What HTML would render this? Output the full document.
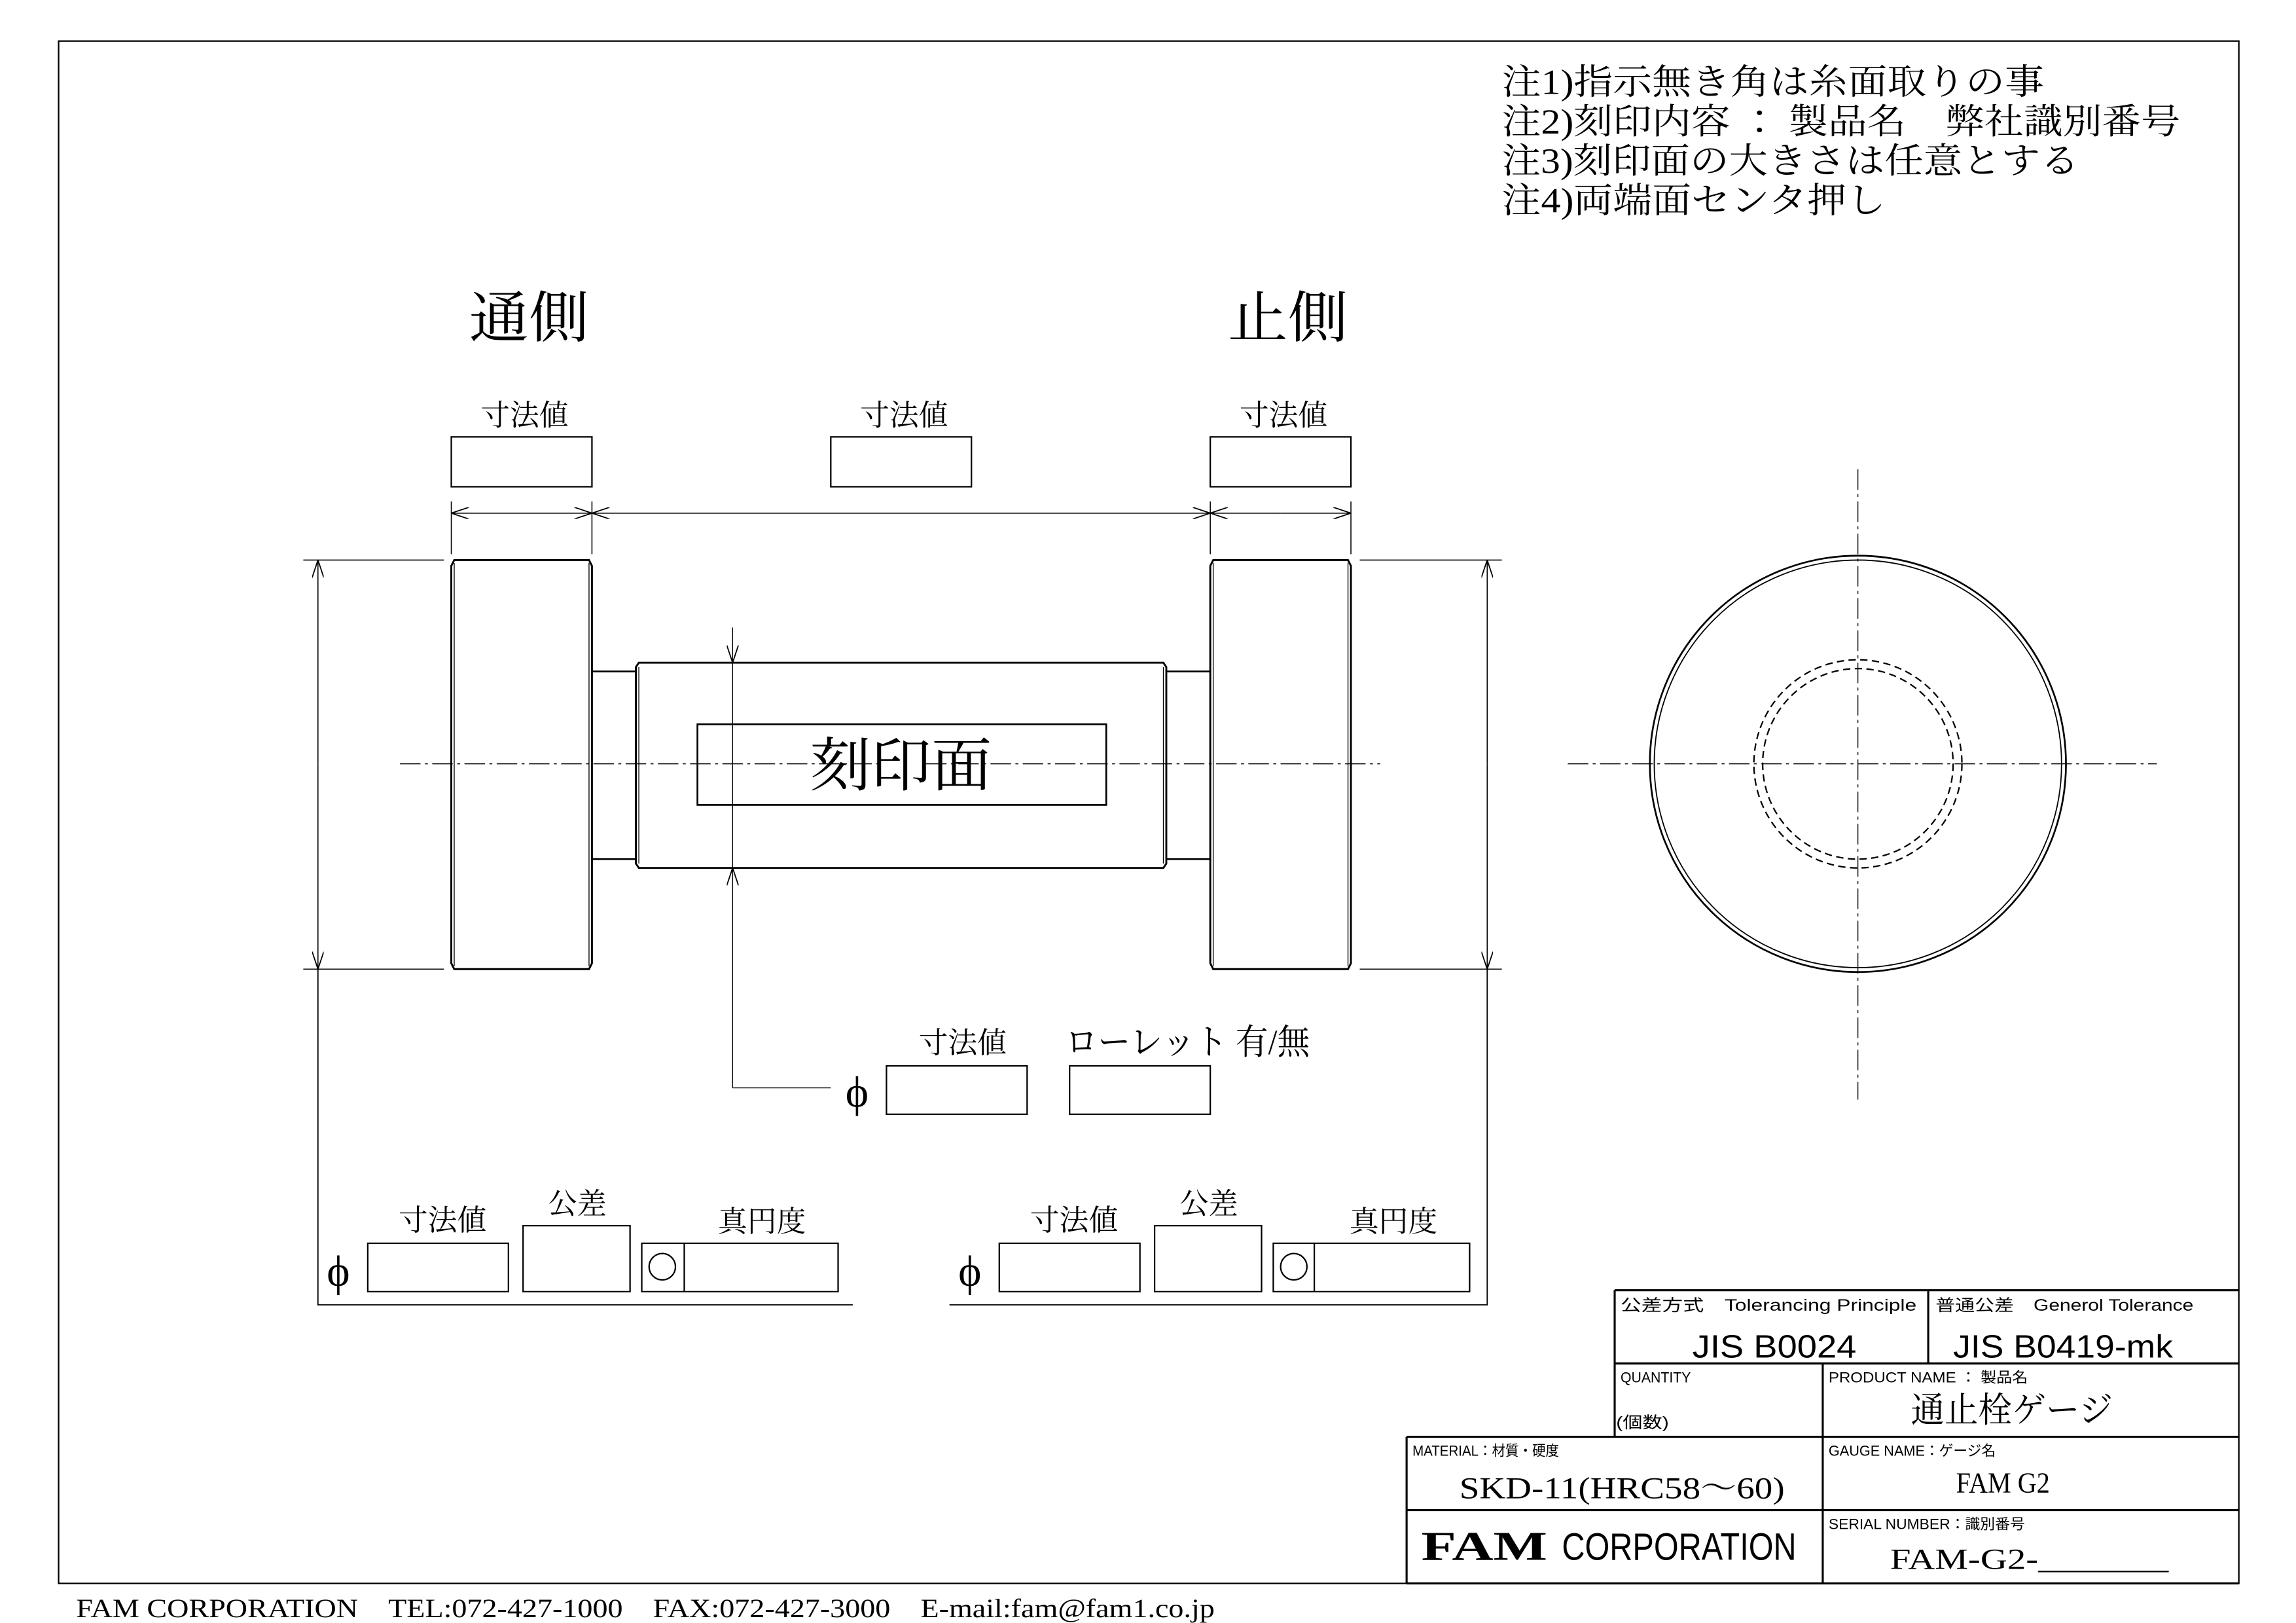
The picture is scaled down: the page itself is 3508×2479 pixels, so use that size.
<!DOCTYPE html>
<html><head><meta charset="utf-8">
<style>
html,body{margin:0;padding:0;background:#fff;}
svg{display:block;}
text{font-family:"Liberation Serif","Noto Serif CJK JP","Noto Sans CJK JP",serif;fill:#000;}
.s{font-family:"Liberation Sans","Noto Sans CJK JP",sans-serif;}
</style></head><body>
<svg width="3508" height="2479" viewBox="0 0 1567 1107" preserveAspectRatio="none" xmlns="http://www.w3.org/2000/svg">
<defs>
<marker id="a" markerWidth="12" markerHeight="8" refX="12" refY="4" orient="auto" markerUnits="userSpaceOnUse"><path d="M0,0 L12,4 L0,8" fill="none" stroke="#000" stroke-width="0.8"/></marker>
</defs>
<g fill="none" stroke="#000" stroke-width="1">
<rect x="40" y="28" width="1488" height="1052"/>
<rect x="308" y="298" width="96" height="34"/>
<rect x="567" y="298" width="96" height="34"/>
<rect x="826" y="298" width="96" height="34"/>
<path d="M308,342V378 M404,342V378 M826,342V378 M922,342V378" stroke-width="0.7"/>
<path d="M356,350H308" marker-end="url(#a)" stroke-width="0.7"/>
<path d="M356,350H404" marker-end="url(#a)" stroke-width="0.7"/>
<path d="M615,350H404" marker-end="url(#a)" stroke-width="0.7"/>
<path d="M615,350H826" marker-end="url(#a)" stroke-width="0.7"/>
<path d="M874,350H826" marker-end="url(#a)" stroke-width="0.7"/>
<path d="M874,350H922" marker-end="url(#a)" stroke-width="0.7"/>
<path d="M310,382H402L404,386V657L402,661H310L308,657V386Z" stroke-width="1.3"/>
<path d="M310,384V659 M402,384V659" stroke-width="0.6"/>
<path d="M828,382H920L922,386V657L920,661H828L826,657V386Z" stroke-width="1.3"/>
<path d="M828,384V659 M920,384V659" stroke-width="0.6"/>
<path d="M404,458H434 M404,586H434 M796,458H826 M796,586H826" stroke-width="1.2"/>
<path d="M436,452H794L796,455V589L794,592H436L434,589V455Z" stroke-width="1.3"/>
<path d="M436,455V589 M794,455V589" stroke-width="0.6"/>
<rect x="476" y="494" width="279" height="55" stroke-width="1.2"/>
<path d="M273,521H600 M632,521H942" stroke-width="0.6" stroke-dasharray="14,3,2,3"/>
<path d="M1070,521H1472 M1268,320V750" stroke-width="0.6" stroke-dasharray="14,3,2,3"/>
<path d="M207,382H303 M207,661H303 M928,382H1025 M928,661H1025" stroke-width="0.7"/>
<path d="M217,521V382" marker-end="url(#a)" stroke-width="0.7"/>
<path d="M217,521V661" marker-end="url(#a)" stroke-width="0.7"/>
<path d="M1015,521V382" marker-end="url(#a)" stroke-width="0.7"/>
<path d="M1015,521V661" marker-end="url(#a)" stroke-width="0.7"/>
<path d="M500,428V452" marker-end="url(#a)" stroke-width="0.6"/>
<path d="M500,742V592" marker-end="url(#a)" stroke-width="0.6"/>
<path d="M500,452V592 M500,742H567" stroke-width="0.6"/>
<rect x="605" y="727" width="96" height="33"/>
<rect x="730" y="727" width="96" height="33"/>
<path d="M217,661V890H582 M1015,661V890H648" stroke-width="0.8"/>
<rect x="251" y="848" width="96" height="33"/>
<rect x="357" y="836" width="73" height="45"/>
<rect x="438" y="848" width="134" height="33"/>
<path d="M467,848V881"/>
<circle cx="452" cy="864" r="9"/>
<rect x="682" y="848" width="96" height="33"/>
<rect x="788" y="836" width="73" height="45"/>
<rect x="869" y="848" width="134" height="33"/>
<path d="M897,848V881"/>
<circle cx="883" cy="864" r="9"/>
<circle cx="1268" cy="521" r="142" stroke-width="1.2"/>
<circle cx="1268" cy="521" r="139" stroke-width="0.8"/>
<circle cx="1268" cy="521" r="71" stroke-dasharray="5,3"/>
<circle cx="1268" cy="521" r="65" stroke-dasharray="5,3"/>
<path d="M1102,880H1528 M1102,880V980 M1316,880V930 M1102,930H1528 M1244,930V1080 M960,980H1528 M960,980V1080 M960,1030H1528 M960,1080H1528" stroke-width="1.4"/>
</g>
<g font-size="24">
<text x="1025" y="64" textLength="370" lengthAdjust="spacingAndGlyphs">注1)指示無き角は糸面取りの事</text>
<text x="1025" y="91" textLength="463" lengthAdjust="spacingAndGlyphs">注2)刻印内容 ： 製品名　弊社識別番号</text>
<text x="1025" y="118" textLength="394" lengthAdjust="spacingAndGlyphs">注3)刻印面の大きさは任意とする</text>
<text x="1025" y="145" textLength="262" lengthAdjust="spacingAndGlyphs">注4)両端面センタ押し</text>
</g>
<text x="320" y="230" font-size="38" textLength="82" lengthAdjust="spacingAndGlyphs">通側</text>
<text x="838" y="230" font-size="38" textLength="82" lengthAdjust="spacingAndGlyphs">止側</text>
<g font-size="20" text-anchor="middle">
<text x="358" y="290">寸法値</text>
<text x="617" y="290">寸法値</text>
<text x="876" y="290">寸法値</text>
<text x="657" y="718">寸法値</text>
<text x="302" y="839">寸法値</text>
<text x="394" y="828">公差</text>
<text x="520" y="840">真円度</text>
<text x="733" y="839">寸法値</text>
<text x="825" y="828">公差</text>
<text x="951" y="840">真円度</text>
</g>
<text x="727" y="719" font-size="24" textLength="167" lengthAdjust="spacingAndGlyphs">ローレット 有/無</text>
<text x="615" y="536" font-size="40" text-anchor="middle" textLength="124" lengthAdjust="spacingAndGlyphs">刻印面</text>
<g font-size="30">
<text x="577" y="755">ϕ</text>
<text x="223" y="877">ϕ</text>
<text x="654" y="877">ϕ</text>
</g>
<g>
<text x="1106" y="894" font-size="11" textLength="202" lengthAdjust="spacingAndGlyphs" class="s">公差方式　Tolerancing Principle</text>
<text x="1321" y="894" font-size="11" textLength="176" lengthAdjust="spacingAndGlyphs" class="s">普通公差　Generol Tolerance</text>
<text x="1211" y="926" font-size="22" text-anchor="middle" fill="#333" textLength="112" lengthAdjust="spacingAndGlyphs" class="s">JIS B0024</text>
<text x="1408" y="926" font-size="22" text-anchor="middle" fill="#333" textLength="150" lengthAdjust="spacingAndGlyphs" class="s">JIS B0419-mk</text>
<text x="1106" y="943" font-size="10" textLength="48" lengthAdjust="spacingAndGlyphs" class="s">QUANTITY</text>
<text x="1103" y="974" font-size="11" textLength="36" lengthAdjust="spacingAndGlyphs" class="s">(個数)</text>
<text x="1248" y="943" font-size="10" textLength="136" lengthAdjust="spacingAndGlyphs" class="s">PRODUCT NAME ： 製品名</text>
<text x="964" y="993" font-size="10" textLength="100" lengthAdjust="spacingAndGlyphs" class="s">MATERIAL：材質・硬度</text>
<text x="1248" y="993" font-size="10" textLength="114" lengthAdjust="spacingAndGlyphs" class="s">GAUGE NAME：ゲージ名</text>
<text x="1248" y="1043" font-size="10" textLength="134" lengthAdjust="spacingAndGlyphs" class="s">SERIAL NUMBER：識別番号</text>
<text x="970" y="1064" font-size="28" font-weight="bold" textLength="86" lengthAdjust="spacingAndGlyphs">FAM</text>
<text x="1066" y="1064" font-size="26" textLength="160" lengthAdjust="spacingAndGlyphs" class="s">CORPORATION</text>
</g>
<text x="1373" y="970" font-size="24" text-anchor="middle" textLength="138" lengthAdjust="spacingAndGlyphs">通止栓ゲージ</text>
<text x="1107" y="1022" font-size="21" text-anchor="middle" textLength="222" lengthAdjust="spacingAndGlyphs">SKD-11(HRC58～60)</text>
<text x="1367" y="1018" font-size="20" text-anchor="middle" textLength="64" lengthAdjust="spacingAndGlyphs">FAM G2</text>
<text x="1290" y="1070" font-size="20" textLength="190" lengthAdjust="spacingAndGlyphs">FAM-G2-_______</text>
<text x="52" y="1103" font-size="18" textLength="777" lengthAdjust="spacingAndGlyphs">FAM CORPORATION　TEL:072-427-1000　FAX:072-427-3000　E-mail:fam@fam1.co.jp</text>
</svg>
</body></html>
